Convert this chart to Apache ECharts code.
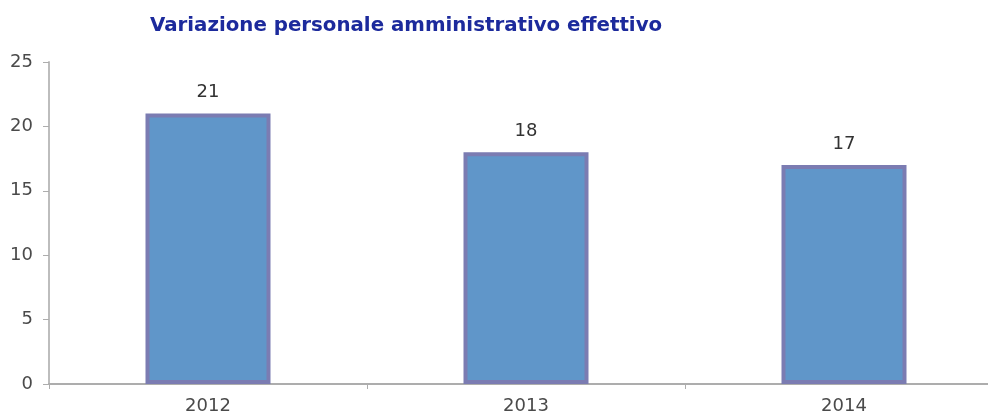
<!DOCTYPE html>
<html>
<head>
<meta charset="utf-8">
<script src="https://cdn.jsdelivr.net/npm/echarts@6/dist/echarts.min.js"></script>
<style>
  html, body { margin: 0; padding: 0; background: #ffffff; overflow: hidden; }
  #chart { width: 1010px; height: 419px; }
</style>
</head>
<body>
<div id="chart"></div>
<script>
// Administrative staff headcount by year
var years = ['2012', '2013', '2014'];
var staff = [21, 18, 17];
var yTicks = [0, 5, 10, 15, 20, 25];

var chart = echarts.init(document.getElementById('chart'));
chart.setOption({
  animation: false,
  title: {
    text: 'Variazione personale amministrativo effettivo',
    left: 145,
    top: 11,
    textStyle: {
      fontFamily: 'DejaVu Sans',
      fontSize: 19.8,
      fontWeight: 'bold',
      color: '#1c2a9c'
    }
  },
  // plot area runs slightly past the right edge of the visible page
  grid: { left: 49, top: 62, width: 954, height: 322 },
  xAxis: {
    type: 'category',
    data: years,
    axisLine: { lineStyle: { color: '#adadad', width: 2 } },
    axisTick: { show: true, length: 5, lineStyle: { color: '#adadad' } },
    axisLabel: { color: '#4a4a4a', fontFamily: 'DejaVu Sans', fontSize: 18, margin: 13 }
  },
  yAxis: {
    type: 'value',
    min: yTicks[0],
    max: yTicks[yTicks.length - 1],
    interval: 5,
    axisLine: { show: true, lineStyle: { color: '#bdbdbd', width: 2 } },
    axisTick: { show: true, length: 6, lineStyle: { color: '#adadad' } },
    splitLine: { show: false },
    axisLabel: { color: '#4a4a4a', fontFamily: 'DejaVu Sans', fontSize: 18, margin: 16 }
  },
  series: [{
    type: 'bar',
    data: staff,
    barWidth: 125,
    itemStyle: { color: '#6096c9', borderColor: '#7b7cb2', borderWidth: 4 },
    label: {
      show: true,
      position: 'top',
      distance: 12,
      color: '#333',
      fontFamily: 'DejaVu Sans',
      fontSize: 18
    }
  }]
});
</script>
</body>
</html>
